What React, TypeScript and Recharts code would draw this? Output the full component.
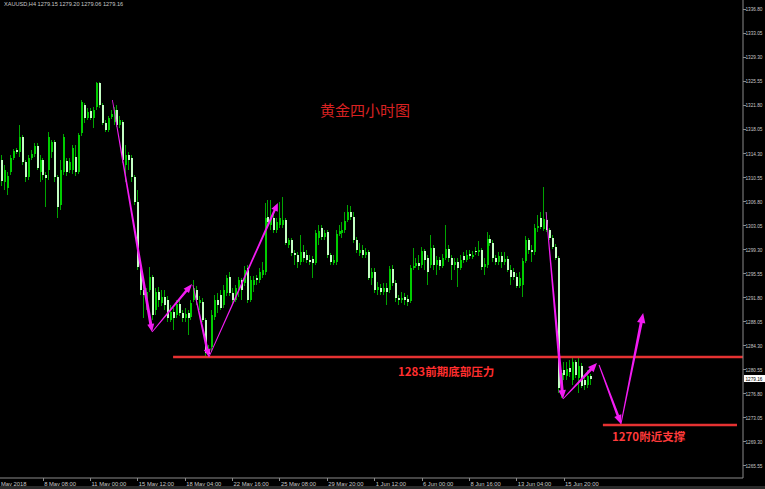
import React from 'react';
import { ComposedChart, Bar, XAxis, YAxis, ReferenceLine } from 'recharts';

// ---------- data (XAUUSD H4) ----------
const opens = [
  1313.27, 1309.84, 1308.90, 1311.40, 1313.59, 1314.83, 1314.52, 1316.86, 1312.96, 1310.62,
  1313.59, 1314.21, 1315.46, 1311.40, 1313.27, 1310.93, 1311.71, 1314.52, 1316.08, 1310.62,
  1306.25, 1311.40, 1313.12, 1311.71, 1311.71, 1313.74, 1311.40, 1317.49, 1321.86, 1319.83,
  1320.92, 1319.83, 1321.55, 1325.29, 1321.86, 1319.05, 1317.96, 1319.99, 1319.21, 1321.08,
  1318.74, 1319.21, 1312.49, 1314.05, 1313.59, 1310.62, 1306.72, 1296.57, 1292.98, 1291.42,
  1292.98, 1295.01, 1289.86, 1292.67, 1290.95, 1291.89, 1291.42, 1288.30, 1289.55, 1289.08,
  1290.80, 1289.39, 1288.61, 1289.39, 1288.77, 1291.42, 1292.98, 1290.95, 1291.11, 1288.30,
  1283.61, 1284.08, 1288.77, 1291.42, 1292.20, 1290.64, 1292.51, 1295.01, 1292.51, 1291.42,
  1292.98, 1294.54, 1294.07, 1296.42, 1291.42, 1293.76, 1294.85, 1294.54, 1295.32, 1295.79,
  1304.38, 1303.13, 1304.22, 1302.35, 1303.13, 1303.13, 1303.91, 1300.01, 1300.79, 1298.76,
  1298.44, 1297.35, 1298.91, 1298.44, 1297.66, 1297.82, 1297.20, 1301.10, 1302.66, 1301.25,
  1302.03, 1298.44, 1297.20, 1297.35, 1301.72, 1301.88, 1302.35, 1303.91, 1305.16, 1304.38,
  1300.79, 1298.76, 1299.22, 1298.44, 1298.91, 1294.85, 1295.79, 1292.98, 1293.29, 1292.67,
  1293.29, 1292.98, 1296.26, 1294.07, 1291.73, 1291.42, 1291.89, 1291.58, 1291.26, 1296.42,
  1296.73, 1297.20, 1296.88, 1299.07, 1297.98, 1296.88, 1299.54, 1296.88, 1297.66, 1296.73,
  1297.98, 1299.38, 1297.98, 1296.88, 1297.35, 1296.42, 1298.29, 1297.66, 1298.60, 1298.13,
  1299.07, 1298.91, 1299.22, 1296.57, 1296.88, 1300.94, 1300.32, 1297.98, 1297.35, 1298.29,
  1297.35, 1297.82, 1296.10, 1295.79, 1295.01, 1293.61, 1293.76, 1297.51, 1300.79, 1299.22,
  1298.91, 1302.66, 1304.22, 1302.50, 1303.91, 1302.35, 1301.10, 1299.69, 1297.98, 1277.06,
  1280.49, 1279.56, 1280.81, 1278.93, 1281.74, 1279.24, 1281.12, 1278.93, 1278.15, 1279.56,
];
const highs = [
  1314.05, 1312.49, 1311.40, 1314.05, 1314.99, 1315.15, 1318.74, 1317.18, 1313.27, 1314.05,
  1314.83, 1315.93, 1315.93, 1314.05, 1313.59, 1311.40, 1317.64, 1316.40, 1316.40, 1310.93,
  1313.27, 1317.33, 1313.59, 1313.59, 1315.62, 1315.62, 1317.49, 1322.64, 1322.17, 1321.39,
  1321.39, 1321.55, 1325.45, 1325.45, 1322.17, 1319.52, 1320.14, 1321.08, 1321.55, 1321.86,
  1320.14, 1319.52, 1315.62, 1314.52, 1314.05, 1310.93, 1308.59, 1296.88, 1293.76, 1293.29,
  1296.57, 1295.32, 1293.29, 1293.45, 1292.98, 1292.98, 1292.04, 1290.64, 1290.17, 1291.42,
  1291.73, 1289.86, 1290.17, 1289.86, 1291.42, 1294.54, 1293.61, 1292.04, 1291.73, 1288.61,
  1284.40, 1289.86, 1292.20, 1292.51, 1292.98, 1293.76, 1295.32, 1295.79, 1293.29, 1293.76,
  1295.01, 1294.85, 1296.73, 1296.88, 1295.17, 1295.17, 1295.32, 1296.42, 1297.35, 1306.56,
  1307.03, 1307.03, 1304.84, 1304.22, 1306.72, 1307.50, 1304.22, 1301.10, 1301.10, 1299.22,
  1298.91, 1301.57, 1300.01, 1299.22, 1298.44, 1298.29, 1302.35, 1303.13, 1303.13, 1302.35,
  1302.35, 1298.76, 1298.44, 1302.35, 1303.13, 1303.60, 1305.16, 1306.25, 1306.09, 1305.16,
  1301.25, 1300.32, 1300.01, 1299.54, 1299.22, 1296.42, 1296.42, 1294.23, 1293.92, 1294.07,
  1294.07, 1296.73, 1296.88, 1294.54, 1292.20, 1292.67, 1292.51, 1292.20, 1296.88, 1299.54,
  1297.98, 1298.44, 1299.69, 1299.38, 1298.44, 1301.57, 1300.01, 1298.29, 1298.13, 1298.60,
  1303.13, 1300.01, 1298.44, 1297.98, 1297.98, 1298.44, 1298.91, 1299.22, 1299.22, 1299.07,
  1299.69, 1300.63, 1299.54, 1297.98, 1302.03, 1301.57, 1300.79, 1298.44, 1298.91, 1298.91,
  1298.91, 1298.29, 1296.88, 1296.42, 1295.63, 1295.79, 1297.98, 1301.41, 1301.10, 1300.01,
  1303.28, 1304.69, 1305.16, 1309.06, 1305.16, 1302.66, 1301.57, 1300.16, 1298.29, 1280.49,
  1281.74, 1281.74, 1282.05, 1282.37, 1282.05, 1282.37, 1281.59, 1279.56, 1280.49, 1279.87,
];
const lows = [
  1309.22, 1308.59, 1307.81, 1310.93, 1313.27, 1314.21, 1313.74, 1312.49, 1309.84, 1310.15,
  1313.27, 1313.74, 1311.71, 1309.84, 1310.15, 1305.94, 1310.15, 1313.59, 1309.84, 1304.22,
  1305.47, 1310.93, 1310.78, 1311.24, 1311.09, 1310.78, 1311.09, 1317.02, 1319.05, 1319.52,
  1319.52, 1318.27, 1321.08, 1321.39, 1318.74, 1317.64, 1317.64, 1319.67, 1318.74, 1318.43,
  1318.27, 1312.81, 1309.84, 1311.71, 1309.84, 1306.25, 1296.10, 1292.20, 1288.61, 1289.86,
  1292.67, 1288.30, 1289.08, 1290.33, 1290.48, 1289.86, 1287.99, 1287.99, 1286.74, 1288.61,
  1288.92, 1287.99, 1287.99, 1285.96, 1288.30, 1291.11, 1290.64, 1289.86, 1287.99, 1282.52,
  1282.37, 1283.30, 1288.30, 1289.39, 1289.86, 1290.17, 1292.04, 1292.04, 1290.64, 1291.11,
  1291.89, 1291.42, 1293.61, 1290.95, 1291.11, 1292.67, 1293.76, 1294.07, 1294.85, 1295.32,
  1303.13, 1302.35, 1301.88, 1301.88, 1302.66, 1302.66, 1300.01, 1299.54, 1298.29, 1296.88,
  1296.42, 1296.88, 1297.35, 1297.20, 1296.88, 1294.85, 1296.88, 1300.01, 1300.79, 1300.79,
  1297.98, 1296.88, 1296.88, 1296.88, 1301.41, 1301.10, 1301.88, 1303.60, 1303.91, 1300.32,
  1298.76, 1298.29, 1297.98, 1297.98, 1294.54, 1293.76, 1292.51, 1292.20, 1292.20, 1292.20,
  1290.64, 1292.51, 1293.61, 1291.11, 1290.64, 1290.95, 1290.64, 1290.48, 1290.95, 1296.10,
  1296.42, 1296.10, 1296.42, 1296.10, 1293.76, 1296.42, 1296.10, 1295.32, 1296.10, 1296.42,
  1297.66, 1297.35, 1294.54, 1296.10, 1293.45, 1296.10, 1297.20, 1297.35, 1297.82, 1297.82,
  1298.44, 1298.29, 1296.10, 1295.32, 1296.42, 1299.85, 1297.35, 1296.88, 1296.88, 1296.42,
  1296.88, 1295.79, 1293.76, 1294.54, 1293.29, 1293.29, 1291.89, 1297.20, 1298.60, 1297.35,
  1298.44, 1302.03, 1302.50, 1302.19, 1302.03, 1300.79, 1299.38, 1297.66, 1276.90, 1276.12,
  1278.93, 1278.93, 1279.40, 1278.15, 1279.24, 1276.90, 1277.68, 1277.37, 1277.68, 1278.15,
];
const closes = [
  1310.00, 1311.71, 1310.78, 1313.59, 1314.68, 1314.52, 1316.86, 1312.96, 1310.62, 1313.59,
  1314.21, 1315.46, 1312.03, 1313.27, 1310.93, 1310.46, 1316.86, 1316.08, 1310.62, 1305.94,
  1311.71, 1316.86, 1311.40, 1312.96, 1315.15, 1311.40, 1317.18, 1322.33, 1319.83, 1320.77,
  1319.83, 1321.08, 1325.29, 1321.86, 1319.05, 1317.96, 1319.83, 1320.45, 1321.08, 1318.74,
  1319.52, 1313.27, 1314.05, 1313.27, 1310.62, 1306.72, 1296.57, 1292.98, 1292.20, 1292.67,
  1295.01, 1289.08, 1292.67, 1291.42, 1291.89, 1290.64, 1288.61, 1289.55, 1288.61, 1290.80,
  1289.39, 1288.61, 1289.23, 1288.61, 1290.95, 1293.29, 1291.42, 1291.42, 1288.30, 1283.15,
  1282.99, 1289.08, 1291.42, 1290.64, 1290.17, 1292.98, 1294.85, 1292.51, 1291.42, 1293.29,
  1294.54, 1292.98, 1296.10, 1291.42, 1294.54, 1294.54, 1294.54, 1295.79, 1296.10, 1304.22,
  1303.60, 1304.22, 1302.35, 1303.60, 1304.22, 1303.91, 1300.32, 1300.79, 1298.76, 1298.44,
  1297.35, 1298.91, 1297.98, 1297.66, 1297.35, 1297.20, 1301.88, 1302.19, 1301.25, 1301.88,
  1298.44, 1297.35, 1297.66, 1301.72, 1302.19, 1302.35, 1303.75, 1305.16, 1304.38, 1300.79,
  1299.22, 1299.22, 1298.44, 1298.91, 1294.85, 1295.79, 1292.98, 1293.45, 1292.67, 1293.29,
  1292.67, 1296.26, 1294.07, 1291.73, 1291.42, 1291.73, 1291.42, 1291.11, 1296.42, 1296.73,
  1297.20, 1296.73, 1299.07, 1297.66, 1295.79, 1299.54, 1296.88, 1297.66, 1296.73, 1297.98,
  1299.38, 1297.98, 1296.88, 1297.35, 1296.42, 1297.66, 1297.66, 1298.44, 1298.29, 1298.44,
  1298.91, 1299.22, 1296.57, 1297.04, 1300.94, 1300.32, 1297.98, 1297.35, 1298.29, 1297.35,
  1297.82, 1296.10, 1295.01, 1295.01, 1293.61, 1294.85, 1297.51, 1300.79, 1299.22, 1298.91,
  1302.66, 1302.97, 1302.82, 1304.06, 1302.35, 1301.10, 1299.69, 1297.98, 1277.68, 1280.02,
  1279.71, 1280.65, 1280.18, 1281.74, 1279.71, 1281.12, 1278.00, 1278.15, 1279.56, 1279.16,
];

const firstDateLabel = 'May 2018';
const dateTickBars = [14, 30, 46, 62, 78, 94, 110, 126, 142, 158, 174, 190];
const dateTickLabels = [
  '8 May 08:00', '11 May 00:00', '15 May 12:00', '18 May 04:00', '22 May 16:00', '25 May 08:00',
  '29 May 20:00', '1 Jun 12:00', '6 Jun 00:00', '8 Jun 16:00', '13 Jun 04:00', '15 Jun 20:00',
];
const priceTicks = [
  1336.8, 1333.05, 1329.3, 1325.55, 1321.8, 1318.05, 1314.3, 1310.55, 1306.8, 1303.05,
  1299.3, 1295.55, 1291.8, 1288.05, 1284.3, 1280.55, 1276.8, 1273.05, 1269.3, 1265.55,
];
const currentPrice = 1279.16;
const headerText = 'XAUUSD,H4  1279.15 1279.20 1279.06 1279.16';

// horizontal levels (drawn lines)
const resistancePrice = 1282.52;
const resistanceFromBar = 57.9;
const supportPrice = 1271.9;
const supportFromBar = 203.1;
const supportToBar = 248.4;

// hand-drawn arrows (bar position, price)
const arrowFromBar = [37.4, 50.8, 64.6, 70.0, 183.9, 189.6, 201.8, 209.2];
const arrowFromPrice = [1322.64, 1286.43, 1293.76, 1282.52, 1305.16, 1275.96, 1281.27, 1272.06];
const arrowToBar = [50.8, 64.3, 70.0, 93.3, 189.6, 201.1, 209.2, 216.7];
const arrowToPrice = [1286.43, 1293.92, 1282.52, 1306.56, 1275.96, 1281.58, 1272.06, 1289.39];

const titleText = '黄金四小时图';
const resistanceText = '1283前期底部压力';
const supportText = '1270附近支撑';

// ---------- layout / style ----------
const W = 765;
const H = 489;
const X_MIN = -0.574;
const X_MAX = 250.43;
const Y_MIN = 1263.63;
const Y_MAX = 1338.25;
const WICK = '#00a400';
const UP = '#00cc00';
const DOWN = '#c4ffc4';
const MAGENTA = '#f21cf2';
const RED = '#e63232';
const AXIS = '#8a8a8a';
const LABEL = '#c8c8c8';
const arrowStyle = [
  { w0: 0.8, w1: 3, hl: 8, hh: 3.5 },
  { w0: 0.8, w1: 2.4, hl: 9, hh: 3.5 },
  { w0: 0.8, w1: 2.6, hl: 8, hh: 3.5 },
  { w0: 0.8, w1: 2.2, hl: 8, hh: 3.5 },
  { w0: 0.8, w1: 3, hl: 9, hh: 3.8 },
  { w0: 0.8, w1: 3, hl: 9, hh: 3.8 },
  { w0: 1, w1: 2.6, hl: 9, hh: 3.8 },
  { w0: 1, w1: 3, hl: 10, hh: 4.2 },
];

const candles = opens.map((o, i) => ({
  i,
  o,
  h: highs[i],
  l: lows[i],
  c: closes[i],
  range: [lows[i], highs[i]],
}));

const Candle = (props: any) => {
  const { x, y, width, height, payload } = props;
  if (!payload) return null;
  const { o, h, l, c } = payload;
  const cx = Math.floor(x + width / 2);
  const span = h - l;
  const py = (p: number) => (span === 0 ? y : y + ((h - p) / span) * height);
  const top = py(Math.max(o, c));
  const bot = py(Math.min(o, c));
  const up = c >= o;
  return (
    <g shapeRendering="crispEdges">
      <rect x={cx} y={y} width={1} height={Math.max(1, height)} fill={WICK} />
      <rect x={cx} y={top} width={2} height={Math.max(1, bot - top)} fill={up ? UP : DOWN} />
    </g>
  );
};

const makeArrow = (s: { w0: number; w1: number; hl: number; hh: number }) => (p: any) => {
  const { x1, y1, x2, y2 } = p;
  const dx = x2 - x1;
  const dy = y2 - y1;
  const L = Math.hypot(dx, dy) || 1;
  const ux = dx / L;
  const uy = dy / L;
  const nx = -uy;
  const ny = ux;
  const bx = x2 - ux * s.hl;
  const by = y2 - uy * s.hl;
  const pts = [
    [x1 + (nx * s.w0) / 2, y1 + (ny * s.w0) / 2],
    [bx + (nx * s.w1) / 2, by + (ny * s.w1) / 2],
    [bx + nx * s.hh, by + ny * s.hh],
    [x2, y2],
    [bx - nx * s.hh, by - ny * s.hh],
    [bx - (nx * s.w1) / 2, by - (ny * s.w1) / 2],
    [x1 - (nx * s.w0) / 2, y1 - (ny * s.w0) / 2],
  ];
  return <polygon points={pts.map((q) => q.join(',')).join(' ')} fill={MAGENTA} />;
};

const dateLabelFor = (v: number) => {
  const k = dateTickBars.indexOf(v);
  return k >= 0 ? dateTickLabels[k] : firstDateLabel;
};

const XTick = (props: any) => {
  const { x, y, payload } = props;
  const first = payload.value === X_MIN;
  return (
    <g>
      {!first && <line x1={x} x2={x} y1={y} y2={y + 3} stroke={AXIS} strokeWidth={1} shapeRendering="crispEdges" />}
      <text x={x + 1} y={y + 8} fontSize={5.8} fill={LABEL} fontFamily="Liberation Sans, Arial, sans-serif" textAnchor="start">
        {dateLabelFor(payload.value)}
      </text>
    </g>
  );
};

const YTick = (props: any) => {
  const { x, y, payload } = props;
  return (
    <g>
      <line x1={x} x2={x + 3} y1={y} y2={y} stroke={AXIS} strokeWidth={1} shapeRendering="crispEdges" />
      <text x={x + 2.5} y={y + 2.1} fontSize={5.6} fill={LABEL} fontFamily="Liberation Sans, Arial, sans-serif" textAnchor="start" textLength={17} lengthAdjust="spacingAndGlyphs">
        {payload.value.toFixed(2)}
      </text>
    </g>
  );
};

const PriceBox = (p: any) => {
  const right = Math.max(Number(p.x1) || 0, Number(p.x2) || 0);
  const yy = Number(p.y1);
  return (
    <g>
      <rect x={right + 1} y={yy - 3.5} width={W - right - 1} height={7} fill="#ffffff" />
      <text x={right + 2.5} y={yy + 2.1} fontSize={5.6} fill="#000" fontFamily="Liberation Sans, Arial, sans-serif" textLength={17} lengthAdjust="spacingAndGlyphs">
        {currentPrice.toFixed(2)}
      </text>
    </g>
  );
};

export default function App() {
  return (
    <div style={{ position: 'absolute', left: 0, top: 0, width: W, height: H, background: '#000', overflow: 'hidden' }}>
      <ComposedChart
        width={W}
        height={H}
        data={candles}
        margin={{ top: 0, right: 0, bottom: 0, left: 0 }}
        style={{ background: '#000' }}
      >
        <XAxis
          dataKey="i"
          type="number"
          domain={[X_MIN, X_MAX]}
          allowDataOverflow
          ticks={[X_MIN, ...dateTickBars]}
          interval={0}
          height={11}
          tickSize={0}
          tickMargin={0}
          tickLine={false}
          axisLine={{ stroke: AXIS }}
          tick={<XTick />}
        />
        <YAxis
          orientation="right"
          type="number"
          domain={[Y_MIN, Y_MAX]}
          allowDataOverflow
          ticks={priceTicks}
          interval={0}
          width={22}
          tickSize={0}
          tickMargin={0}
          tickLine={false}
          axisLine={{ stroke: AXIS }}
          tick={<YTick />}
        />
        <Bar dataKey="range" barSize={3} isAnimationActive={false} shape={<Candle />} />
        <ReferenceLine
          segment={[{ x: resistanceFromBar, y: resistancePrice }, { x: X_MAX, y: resistancePrice }]}
          stroke={RED}
          strokeWidth={2.5}
          ifOverflow="visible"
        />
        <ReferenceLine
          segment={[{ x: supportFromBar, y: supportPrice }, { x: supportToBar, y: supportPrice }]}
          stroke={RED}
          strokeWidth={2.5}
          ifOverflow="visible"
        />
        {arrowFromBar.map((b, k) => (
          <ReferenceLine
            key={k}
            segment={[{ x: b, y: arrowFromPrice[k] }, { x: arrowToBar[k], y: arrowToPrice[k] }]}
            ifOverflow="visible"
            shape={makeArrow(arrowStyle[k])}
          />
        ))}
        <ReferenceLine
          segment={[{ x: X_MIN, y: currentPrice }, { x: X_MAX, y: currentPrice }]}
          ifOverflow="visible"
          shape={PriceBox}
        />
      </ComposedChart>
      <svg width={W} height={H} style={{ position: 'absolute', left: 0, top: 0, pointerEvents: 'none' }}>
        <text x={4} y={6} fontSize={5.6} fill={LABEL} fontFamily="Liberation Sans, Arial, sans-serif">{headerText}</text>
        <text x={365} y={116} fontSize={15} fill="#d82222" textAnchor="middle" fontFamily="Noto Sans CJK SC, sans-serif">{titleText}</text>
        <text x={398} y={376} fontSize={11.5} fill="#ff2e2e" fontWeight="bold" fontFamily="Noto Sans CJK SC, sans-serif">{resistanceText}</text>
        <text x={612} y={441} fontSize={11.5} fill="#ff3a3a" fontWeight="bold" fontFamily="Noto Sans CJK SC, sans-serif">{supportText}</text>
        <rect x={0} y={486} width={W} height={3} fill="#2a2a2a" />
      </svg>
    </div>
  );
}
